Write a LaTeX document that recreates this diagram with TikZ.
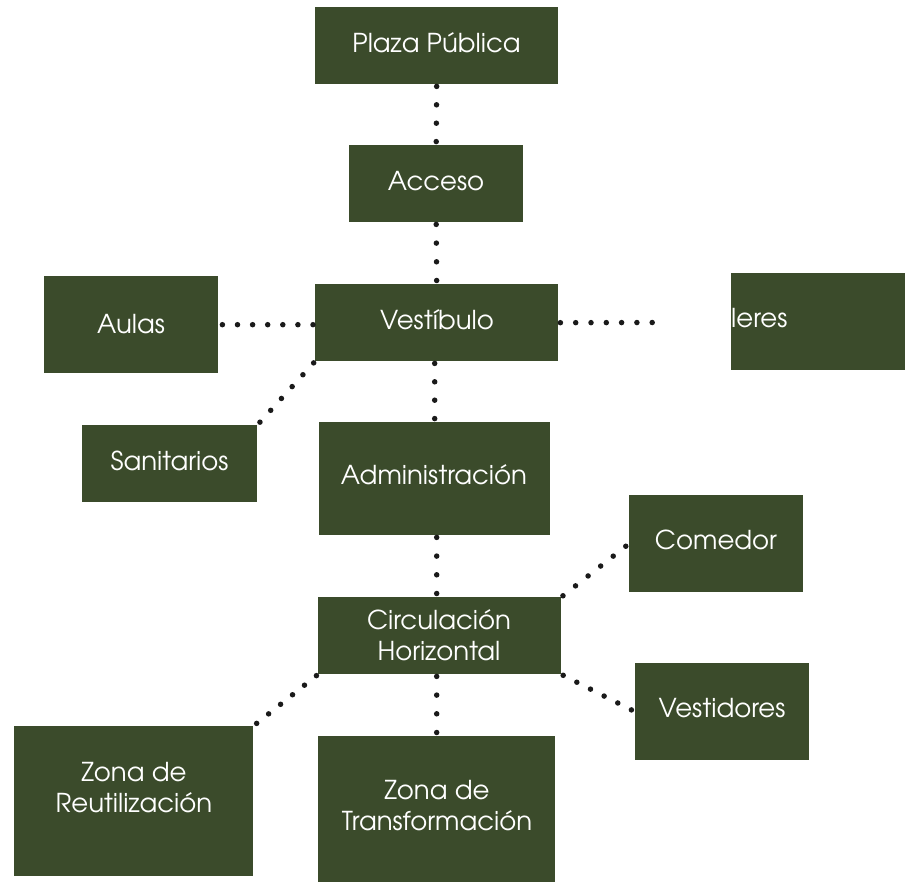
\documentclass[tikz,border=0pt]{standalone}
\usepackage{fontspec}
\setmainfont{texgyreadventor-regular.otf}
\definecolor{boxgreen}{HTML}{3B4B2B}
\definecolor{dotink}{HTML}{1A1A1A}
\newcommand\boxfont{\fontsize{26}{31}\selectfont}
\newlength\talwidth
\begin{document}
\settowidth\talwidth{\boxfont Tal}
\begin{tikzpicture}[x=1pt,y=-1pt,
  box/.style={fill=boxgreen, inner sep=0pt, anchor=north west},
  lbl/.style={text=white, inner sep=0pt, align=center, font=\boxfont},
  link/.style={draw=dotink, line width=5.5pt, line cap=round,
               shorten <=2pt, shorten >=2pt,
               dash pattern=on 0pt off #1}]
\useasboundingbox (0,0) rectangle (911,883);

% boxes
\node[box, minimum width=243pt, minimum height=77pt]  (plaza)  at (315,7)   {};
\node[box, minimum width=174pt, minimum height=77pt]  (acceso) at (349,145) {};
\node[box, minimum width=243pt, minimum height=77pt]  (vest)   at (315,284) {};
\node[box, minimum width=174pt, minimum height=97pt]  (aulas)  at (44,276)  {};
\node[box, minimum width=174pt, minimum height=97pt]  (tall)   at (731,273) {};
\node[box, minimum width=175pt, minimum height=77pt]  (sanit)  at (82,425)  {};
\node[box, minimum width=231pt, minimum height=113pt] (adm)    at (319,422) {};
\node[box, minimum width=174pt, minimum height=97pt]  (comed)  at (629,495) {};
\node[box, minimum width=243pt, minimum height=77pt]  (circ)   at (318,597) {};
\node[box, minimum width=174pt, minimum height=97pt]  (vestid) at (635,663) {};
\node[box, minimum width=239pt, minimum height=150pt] (reut)   at (14,726)  {};
\node[box, minimum width=237pt, minimum height=146pt] (trans)  at (318,736) {};

% labels
\node[lbl] (plaza-t)  at (436.5,43)  {Plaza Pública};
\node[lbl] (acceso-t) at (436,181)   {Acceso};
\node[lbl] (vest-t)   at (437,320)   {Vestíbulo};
\node[lbl] (aulas-t)  at (131,324)   {Aulas};
% the label runs past the left edge of its box, white on white there
\node[lbl, anchor=base west] (tall-t) at (731pt-\talwidth,-327pt) {Talleres};
\node[lbl] (sanit-t)  at (169.5,461) {Sanitarios};
\node[lbl] (adm-t)    at (434,475)   {Administración};
\node[lbl] (comed-t)  at (716,540)   {Comedor};
\node[lbl] (circ-t)   at (439,635.5) {Circulación\\Horizontal};
\node[lbl] (vestid-t) at (722,708)   {Vestidores};
\node[lbl] (reut-t)   at (134,787.5) {Zona de\\Reutilización};
\node[lbl] (trans-t)  at (437,805.5) {Zona de\\Transformación};

% dotted connectors
\coordinate (tall-end) at (657,322.5);
\draw[link=18.4pt] (plaza.south) -- (acceso.north);
\draw[link=18.7pt] (acceso.south) -- (vest.north);
\draw[link=15.1pt] (aulas.east -| vest.west) -- (aulas.east);
\draw[link=15.3pt] (vest.east) -- (tall-end);
\draw[link=16.0pt] (vest.south west) -- (sanit.north east);
\draw[link=18.4pt] (vest.south -| adm.north) -- (adm.north);
\draw[link=18.7pt] (adm.south -| trans.north) -- (circ.north -| trans.north);
\draw[link=16.0pt] (circ.north east) -- (comed.west);
\draw[link=15.3pt] (circ.south east) -- (vestid.west);
\draw[link=15.3pt] (circ.south west) -- (reut.north east);
\draw[link=18.7pt] (circ.south -| trans.north) -- (trans.north);
\end{tikzpicture}
\end{document}
